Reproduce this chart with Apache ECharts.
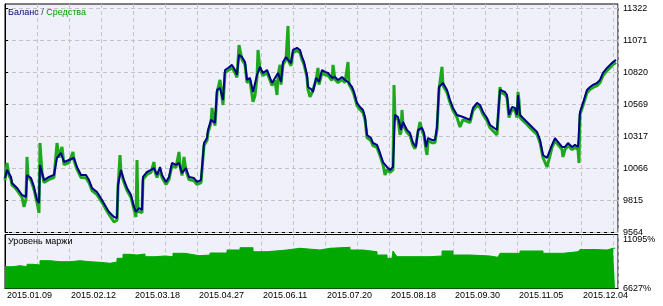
<!DOCTYPE html>
<html><head><meta charset="utf-8">
<script src="https://cdn.jsdelivr.net/npm/echarts@6/dist/echarts.min.js"></script>
<style>html,body{margin:0;padding:0;background:#fff}#c{width:663px;height:306px}</style>
</head><body><div id="c"></div>
<script>
const dateLabels = ['2015.01.09','2015.02.12','2015.03.18','2015.04.27','2015.06.11','2015.07.20','2015.08.18','2015.09.30','2015.11.05','2015.12.04'];
const balanceTicks = [9564, 9815, 10066, 10317, 10569, 10820, 11071, 11322];
const marginTicks = [6627, 11095];

const balX = [0,2,6,7,12,17,21,22,26,29,32,34,35,39,44,49,52,56,59,64,69,72,76,81,84,87,92,97,101,104,109,112,113,116,119,122,126,129,131,134,137,138,142,146,149,152,155,157,161,164,167,171,174,177,181,184,189,192,196,198,199,202,203,206,210,212,215,218,220,223,227,230,232,234,237,240,242,245,248,250,252,255,258,262,264,267,270,273,276,278,281,283,286,288,292,295,297,299,302,303,307,308,311,314,317,320,323,327,330,333,337,340,343,347,349,352,355,358,360,362,366,368,372,375,378,382,385,388,390,393,396,398,402,405,408,411,413,417,419,421,423,427,430,432,434,438,442,445,448,452,458,465,468,472,475,478,482,485,492,494,495,500,502,504,507,510,512,513,515,518,522,525,528,532,535,538,542,544,547,550,553,557,560,563,567,570,573,575,578,582,585,588,592,595,598,602,605,608,611];
const balV = [9991,10054,9999,9952,9913,9858,9842,10015,9991,9921,9819,9795,10093,9975,9999,10015,10148,10187,10116,10132,10148,10077,10015,10015,9975,9913,9881,9819,9764,9725,9685,9678,9936,10054,9975,9913,9858,9764,9725,9756,9740,9999,10038,10054,10069,10015,10077,10015,9960,9999,10109,10093,10109,10030,10069,9999,9991,9960,9975,9960,10265,10304,10367,10446,10422,10681,10696,10602,10837,10853,10877,10837,10798,10955,10939,10900,10759,10775,10665,10657,10798,10861,10814,10837,10798,10735,10775,10814,10743,10900,10939,10916,10892,10994,11010,10994,10939,10900,10798,10704,10681,10665,10775,10743,10837,10822,10814,10775,10782,10759,10782,10759,10743,10704,10665,10579,10547,10524,10469,10328,10304,10265,10250,10187,10116,10077,10054,10077,10485,10469,10367,10430,10367,10344,10265,10234,10367,10383,10344,10234,10304,10289,10289,10391,10704,10735,10681,10602,10540,10485,10469,10446,10540,10579,10563,10508,10461,10406,10367,10352,10681,10665,10641,10485,10547,10540,10485,10641,10485,10461,10430,10406,10383,10352,10289,10171,10148,10156,10250,10304,10273,10234,10234,10265,10234,10250,10234,10508,10579,10681,10704,10720,10735,10759,10814,10853,10877,10900,10916];

const eqX = [0,2,4,6,7,10,12,17,19,21,22,23,26,29,32,34,35,37,39,44,49,52,54,56,57,59,64,68,69,72,76,81,84,87,92,97,101,104,109,112,113,115,116,119,122,126,129,131,132,133,134,137,138,142,146,149,150,152,155,157,161,164,167,171,174,175,177,179,181,184,189,192,196,198,199,202,203,206,207,210,212,215,218,220,223,227,230,232,234,237,240,242,245,248,250,252,253,255,258,262,264,267,270,272,273,275,276,278,281,283,284,286,288,292,295,297,299,302,303,305,307,308,311,313,314,317,320,323,327,328,330,333,337,340,343,344,347,349,352,355,358,360,362,366,368,372,375,378,380,382,385,388,389,390,393,395,396,397,398,402,405,408,410,411,413,415,417,419,421,422,423,427,430,432,434,437,438,442,445,448,452,455,458,465,468,472,475,478,482,485,492,494,495,496,500,502,504,507,510,512,513,514,515,518,522,525,528,532,535,538,542,544,547,550,553,557,558,560,563,567,570,573,574,575,578,582,585,588,592,595,598,602,605,608,611];
const eqV = [9972,10109,10010,9980,9935,9915,9895,9840,9764,9825,10156,10000,9972,9900,9800,9717,10265,10030,9955,9980,9995,10265,10150,10165,10234,10095,10112,10195,10128,10058,9995,9992,9955,9893,9860,9800,9745,9705,9646,9660,9915,10171,10035,9955,9893,9838,9745,9685,10132,9730,9735,9720,9980,10018,10035,10116,10040,9995,10058,9995,9940,9980,10090,10073,10195,10085,10010,10156,10048,9978,9970,9940,9955,9940,10245,10285,10345,10425,10540,10400,10660,10759,10563,10815,10832,10855,10815,10778,11033,10918,10880,10738,10755,10587,10637,10778,10994,10840,10794,10815,10778,10715,10755,10641,10794,10877,10722,10880,10918,11182,10900,10870,10972,10990,10972,10918,10880,10778,10684,10626,10660,10645,10755,10853,10722,10815,10800,10794,10755,10877,10762,10738,10762,10738,10900,10725,10684,10645,10558,10527,10503,10448,10308,10283,10245,10230,10166,10095,10015,10056,10034,10056,10720,10465,10448,10330,10347,10524,10410,10347,10323,10245,10220,10213,10347,10430,10362,10323,10213,10171,10283,10268,10268,10370,10684,10861,10715,10660,10582,10520,10465,10391,10448,10425,10520,10558,10543,10488,10440,10385,10328,10332,10704,10660,10645,10620,10465,10527,10520,10465,10665,10600,10465,10440,10410,10385,10362,10332,10268,10150,10077,10135,10230,10283,10253,10213,10156,10213,10245,10213,10230,10213,10109,10488,10558,10660,10684,10700,10715,10738,10794,10832,10855,10880,10895];

const marX = [0,8,15,22,28,35,45,55,65,75,85,95,105,112,118,125,132,140,150,160,168,180,190,195,205,222,235,248,262,282,295,315,325,345,358,372,382,387,388,390,392,408,425,437,448,465,485,493,495,515,538,558,573,575,590,602,608,610];
const marV = [8635,8728,8635,8857,8792,9188,9096,9096,9188,9096,9041,8949,9068,9409,9778,9713,9805,9557,9621,9557,9870,9713,9649,9713,9898,10174,10386,10017,10174,10331,10174,10331,10423,10174,10017,9713,9409,9529,10082,9805,9557,9557,9621,10082,9713,9621,9501,9529,9870,10082,9870,10017,9990,10220,10174,10331,10331,10331];

const FONT = 'Liberation Sans';
const gridLine = {show: true, lineStyle: {color: '#c4c4c4', type: [4, 3], width: 1}};
const chart = echarts.init(document.getElementById('c'), null, {renderer: 'canvas'});
chart.setOption({
  animation: false,
  backgroundColor: '#ffffff',
  title: [
    {text: '{a|Баланс} {s|/} {b|Средства}', left: 8, top: 8, padding: 0,
     textStyle: {fontFamily: FONT, fontSize: 9, fontWeight: 'normal',
       rich: {a: {color: '#000080', fontFamily: FONT, fontSize: 9},
              s: {color: '#404040', fontFamily: FONT, fontSize: 9},
              b: {color: '#00a000', fontFamily: FONT, fontSize: 9}}}},
    {text: 'Уровень маржи', left: 8, top: 237, padding: 0,
     textStyle: {fontFamily: FONT, fontSize: 9, fontWeight: 'normal', color: '#000'}}
  ],
  grid: [
    {left: 5, right: 45, top: 4, height: 228.5, show: true, backgroundColor: '#f0f0fa', borderColor: '#000', borderWidth: 1},
    {left: 5, right: 45, top: 234.5, height: 54, show: true, backgroundColor: '#f0f0fa', borderColor: '#000', borderWidth: 1}
  ],
  xAxis: [
    {gridIndex: 0, type: 'value', min: 0, max: 613, interval: 32,
     axisLine: {show: false}, axisTick: {show: false}, axisLabel: {show: false}, splitLine: gridLine},
    {gridIndex: 1, type: 'value', min: 0, max: 613, interval: 32,
     axisLine: {show: true, lineStyle: {color: '#000'}}, axisTick: {show: false},
     axisLabel: {show: true, fontFamily: FONT, fontSize: 9, color: '#000', align: 'left', margin: 3,
       padding: [0, 0, 0, 2],
       formatter: v => (v % 64 === 0 && v / 64 < dateLabels.length) ? dateLabels[v / 64] : ''},
     splitLine: gridLine}
  ],
  yAxis: [
    {gridIndex: 0, type: 'value', position: 'right', min: 9564, max: 11354,
     axisLine: {show: true, lineStyle: {color: '#000'}},
     axisTick: {show: true, length: 3, lineStyle: {color: '#000'}, customValues: balanceTicks},
     axisLabel: {show: true, fontFamily: FONT, fontSize: 9, color: '#000', margin: 5, customValues: balanceTicks,
       formatter: v => String(Math.round(v))},
     splitLine: gridLine},
    {gridIndex: 1, type: 'value', position: 'right', min: 6627, max: 11602,
     axisLine: {show: true, lineStyle: {color: '#000'}},
     axisTick: {show: false, customValues: marginTicks},
     axisLabel: {show: true, fontFamily: FONT, fontSize: 9, color: '#000', margin: 5, customValues: marginTicks,
       formatter: v => Math.round(v) + '%'},
     splitLine: {show: false}}
  ],
  series: [
    {type: 'line', xAxisIndex: 0, yAxisIndex: 0, data: eqX.map((x, i) => [x, eqV[i]]),
     symbol: 'none', lineStyle: {color: '#1ea81e', width: 3}, z: 2},
    {type: 'line', xAxisIndex: 0, yAxisIndex: 0, data: balX.map((x, i) => [x, balV[i]]),
     symbol: 'none', lineStyle: {color: '#000088', width: 2}, z: 3},
    {type: 'line', xAxisIndex: 1, yAxisIndex: 1, data: marX.map((x, i) => [x, marV[i]]),
     symbol: 'none', step: 'end', lineStyle: {color: '#00a800', width: 1},
     areaStyle: {color: '#00a800', opacity: 1}, z: 2}
  ]
});
</script>
</body></html>
